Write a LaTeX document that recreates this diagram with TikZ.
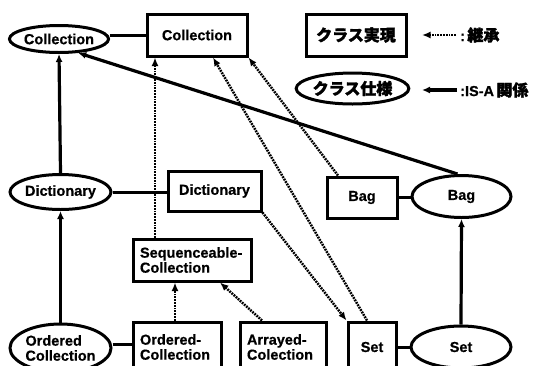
\documentclass[tikz,border=0pt]{standalone}
\usepackage{fontspec}
\setmainfont{Liberation Sans}[BoldFeatures={FakeBold=0.6}]
\newfontfamily\cjk[FakeBold=1.8]{Noto Sans CJK JP}
\usetikzlibrary{arrows.meta,shapes.geometric}
\begin{document}
\begin{tikzpicture}[x=1pt,y=-1pt,
  lbl/.style={font=\bfseries\fontsize{14.5}{15}\selectfont},
  jp/.style={font=\cjk\bfseries\fontsize{16}{17}\selectfont},
  box/.style={lbl,draw,line width=3pt,rectangle,inner sep=0pt},
  tbox/.style={lbl,draw,line width=3pt,rectangle,inner xsep=7pt,inner ysep=0pt,align=left},
  ell/.style={lbl,draw,line width=3pt,ellipse,inner sep=0pt},
  isa/.style={line width=3.2pt,-{Latex[length=8pt,width=7pt]}},
  inh/.style={line width=2.5pt,dash pattern=on 1.8pt off 1pt,-{Latex[length=8.5pt,width=7pt]}},
  link/.style={line width=3pt}]
\useasboundingbox (0,0) rectangle (544,365);
\clip (0,0) rectangle (544,365);
% nodes
\node[ell,minimum width=97pt,minimum height=27pt] (cE) at (59,39) {Collection};
\node[box,minimum width=100pt,minimum height=42pt] (cR) at (197,35) {Collection};
\node[box,jp,minimum width=100pt,minimum height=42pt] (legR) at (356,35) {クラス実現};
\node[ell,jp,minimum width=97pt,minimum height=31pt] (legE) at (352.5,88.5) {クラス仕様};
\node[ell,minimum width=101pt,minimum height=35pt] (dE) at (60.5,192) {Dictionary};
\node[box,minimum width=93pt,minimum height=40pt] (dR) at (214.5,191) {Dictionary};
\node[tbox,text width=104pt,minimum height=42pt] (seqR) at (192,260) {Sequenceable-\\Collection};
\node[ell,align=left,minimum width=101pt,minimum height=48pt] (ocE) at (60.5,348) {Ordered\\Collection};
\node[tbox,text width=74pt,minimum height=50pt] (ocR) at (177,347) {Ordered-\\Collection};
\node[tbox,text width=72pt,minimum height=50pt] (arR) at (283,347) {Arrayed-\\Colection};
\node[box,minimum width=48pt,minimum height=50pt] (setR) at (372,347) {Set};
\node[ell,minimum width=100pt,minimum height=42pt] (setE) at (461,347) {Set};
\node[box,minimum width=70pt,minimum height=41pt] (bagR) at (362,197.5) {Bag};
\node[ell,minimum width=99pt,minimum height=42pt] (bagE) at (461.5,196.5) {Bag};
% legend
\node[lbl,anchor=west,inner sep=0pt] (legI) at (460,35) {:\,{\cjk\bfseries\fontsize{16}{17}\selectfont 継承}};
\node[lbl,anchor=west,inner sep=0pt] (legA) at (460,90) {:IS-A\,{\cjk\bfseries\fontsize{16}{17}\selectfont 関係}};
\coordinate (legIe) at (422,35);
\coordinate (legAe) at (422,90);
\draw[inh] ([xshift=-4pt]legI.west) -- (legIe);
\draw[isa] ([xshift=-3pt]legA.west) -- (legAe);
% links
\draw[link] (cE.east |- cR.west) -- (cR.west);
\draw[link] (dE.east) -- (dE.east -| dR.west);
\draw[link] ([yshift=4pt]ocE.east) -- ([yshift=4pt]ocE.east -| ocR.west);
\draw[link] (bagR.east) -- (bagR.east -| bagE.west);
\draw[link] (setR.east) -- (setR.east -| setE.west);
% IS-A
\draw[isa] (dE.north) -- (cE.south);
\draw[isa] (ocE.north) -- (dE.south);
\draw[isa] (setE.north) -- (bagE.south);
\draw[isa] ([xshift=-4pt]bagE.north) -- (cE.-36);
% inheritance
\draw[inh] (seqR.north -| 155,0) -- (cR.south -| 155,0);
\draw[inh] (ocR.north -| 175,0) -- (seqR.south -| 175,0);
\draw[inh] (arR.north -| 262,0) -- (seqR.south -| 220,0);
\draw[inh] (setR.north -| 367,0) -- (cR.south -| 213,0);
\draw[inh] (bagR.north -| 338,0) -- (cR.south east);
\draw[inh] (dR.south east) -- (setR.north west);
\end{tikzpicture}
\end{document}
